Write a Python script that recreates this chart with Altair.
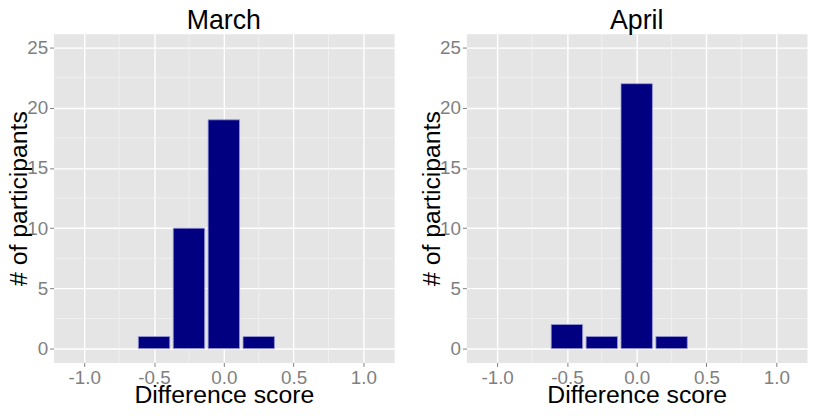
import altair as alt
import pandas as pd

# ---- data ----
scores = [-0.5, -0.25, 0.0, 0.25]
march_counts = [1, 10, 19, 1]
april_counts = [2, 1, 22, 1]
panel_titles = ["March", "April"]

x_ticks = [-1.0, -0.5, 0.0, 0.5, 1.0]
y_ticks = [0, 5, 10, 15, 20, 25]
x_minor = [-0.75, -0.25, 0.25, 0.75]
y_minor = [2.5, 7.5, 12.5, 17.5, 22.5]
bar_half_width = 0.1125

FONT = "Liberation Sans"


def panel(title, counts):
    df = pd.DataFrame({"score": scores, "count": counts})
    xs = alt.Scale(domain=[-1.22, 1.22], nice=False, zero=False)
    ys = alt.Scale(domain=[-1.15, 26.15], nice=False, zero=False)

    x_axis = alt.Axis(
        values=x_ticks,
        title="Difference score",
        labelExpr="(datum.value < 0 ? '-' : '') + format(abs(datum.value), '.1f')",
        titleBaseline="alphabetic",
        titleY=40,
        labelPadding=2,
    )
    y_axis = alt.Axis(
        values=y_ticks,
        title="# of participants",
        titleBaseline="alphabetic",
        titleX=-27,
        titleAngle=270,
        labelPadding=2,
    )

    xminor = alt.Chart(pd.DataFrame({"v": x_minor})).mark_rule(
        color="#F2F2F2", strokeWidth=0.8
    ).encode(x=alt.X("v:Q", scale=xs, axis=x_axis))
    yminor = alt.Chart(pd.DataFrame({"v": y_minor})).mark_rule(
        color="#F2F2F2", strokeWidth=0.8
    ).encode(y=alt.Y("v:Q", scale=ys, axis=y_axis))

    bars = (
        alt.Chart(df)
        .transform_calculate(
            x0=f"datum.score - {bar_half_width}",
            x1=f"datum.score + {bar_half_width}",
            base="0",
        )
        .mark_bar(color="#000080", stroke="#9a9ad8", strokeWidth=0.8)
        .encode(
            x=alt.X("x0:Q", scale=xs, axis=x_axis),
            x2="x1:Q",
            y=alt.Y("base:Q", scale=ys, axis=y_axis),
            y2="count:Q",
        )
    )
    return alt.layer(xminor, yminor, bars).properties(
        width=344,
        height=332,
        title=alt.TitleParams(
            text=title,
            fontSize=27,
            font=FONT,
            fontWeight="normal",
            color="black",
            anchor="middle",
            offset=-2,
        ),
    )


chart = (
    alt.hconcat(panel(panel_titles[0], march_counts), panel(panel_titles[1], april_counts), spacing=73)
    .properties(bounds="flush", padding={"left": -2, "top": -3, "right": 0, "bottom": -7})
    .configure_view(fill="#E5E5E5", stroke="transparent")
    .configure_axis(
        labelFont=FONT,
        labelFontSize=19,
        labelColor="#7F7F7F",
        titleFont=FONT,
        titleFontSize=25,
        titleFontWeight="normal",
        titleColor="black",
        tickColor="#7F7F7F",
        tickSize=4,
        domain=False,
        grid=True,
        gridColor="white",
        gridWidth=1.4,
        gridOpacity=1,
    )
)

chart.save("out.html", embed_options={"renderer": "svg", "actions": False})
